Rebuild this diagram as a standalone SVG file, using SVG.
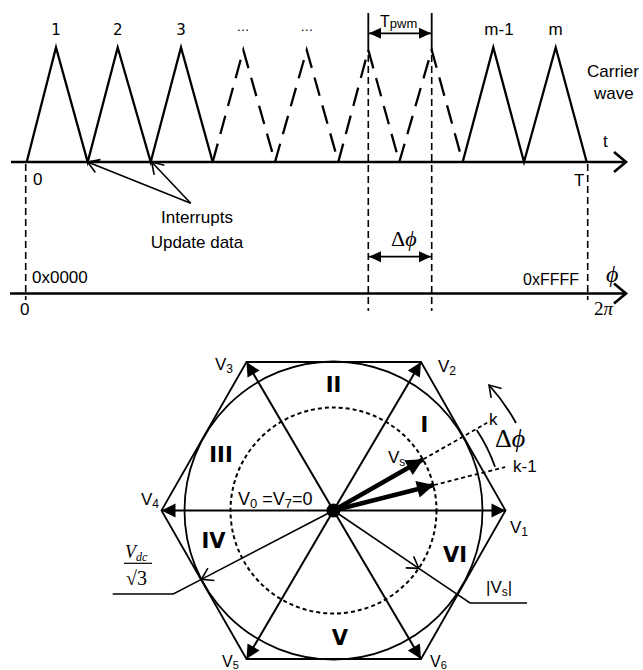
<svg xmlns="http://www.w3.org/2000/svg" width="643" height="670" viewBox="0 0 643 670">
<style>
.sans{font-family:"Liberation Sans",Arial,sans-serif;fill:#000}
.dv{font-family:"DejaVu Sans",Verdana,sans-serif;fill:#000}
.serif{font-family:"Liberation Serif","DejaVu Serif",serif;fill:#000}
.bold{font-family:"DejaVu Sans",Verdana,sans-serif;font-weight:bold;font-size:21px;fill:#000;text-anchor:middle}
.ln{stroke:#000;fill:none}
.tri{stroke:#000;fill:none;stroke-width:2.3;stroke-linejoin:miter}
.dash{stroke:#000;fill:none;stroke-width:2.3;stroke-dasharray:19 10}
.vdash{stroke:#000;fill:none;stroke-width:1.6;stroke-dasharray:7 4}
.axis{stroke:#000;fill:none;stroke-width:2.6}
.spoke{stroke:#000;fill:none;stroke-width:2}
.thick{stroke:#000;fill:none;stroke-width:4.5}
.leader{stroke:#000;fill:none;stroke-width:1.6}
</style>
<defs>
<marker id="axisArrow" markerUnits="userSpaceOnUse" orient="auto" refX="0" refY="0" markerWidth="30" markerHeight="30" viewBox="-15 -15 30 30" overflow="visible">
<path d="M-12,-10 L0,0 L-12,10" fill="none" stroke="#000" stroke-width="2.6"/>
</marker>
<marker id="openArrow" markerUnits="userSpaceOnUse" orient="auto" refX="0" refY="0" markerWidth="30" markerHeight="30" viewBox="-15 -15 30 30" overflow="visible">
<path d="M-11,-7 L0,0 L-11,7" fill="none" stroke="#000" stroke-width="1.6"/>
</marker>
<marker id="fillArrow" markerUnits="userSpaceOnUse" orient="auto" refX="0" refY="0" markerWidth="30" markerHeight="30" viewBox="-15 -15 30 30" overflow="visible">
<path d="M0,0 L-12,-5.5 L-12,5.5 Z" fill="#000"/>
</marker>
<marker id="fillArrowStart" markerUnits="userSpaceOnUse" orient="auto-start-reverse" refX="0" refY="0" markerWidth="30" markerHeight="30" viewBox="-15 -15 30 30" overflow="visible">
<path d="M0,0 L-12,-5.5 L-12,5.5 Z" fill="#000"/>
</marker>
<marker id="spokeArrow" markerUnits="userSpaceOnUse" orient="auto" refX="0" refY="0" markerWidth="30" markerHeight="30" viewBox="-15 -15 30 30" overflow="visible">
<path d="M0,0 L-14,-7 L-14,7 Z" fill="#000"/>
</marker>
<marker id="vsArrow" markerUnits="userSpaceOnUse" orient="auto" refX="0" refY="0" markerWidth="40" markerHeight="40" viewBox="-20 -20 40 40" overflow="visible">
<path d="M0,0 L-17,-8.5 L-17,8.5 Z" fill="#000"/>
</marker>
</defs>

<!-- Carrier wave plot -->
<g id="time-axis">
<path class="axis" d="M11,162 H626" marker-end="url(#axisArrow)"/>
<text class="sans" x="603" y="147" font-size="17">t</text>
<text class="sans" x="574" y="186" font-size="17">T</text>
<text class="sans" x="33" y="185" font-size="17">0</text>
</g>

<g id="carrier-wave">
<path class="tri" d="M26.7,162 L56,47.5 L87.7,162 L117.7,47.5 L150.7,162 L181,47.5 L212.7,162"/>
<path class="dash" d="M212.7,162 L243.3,50 L275,162"/>
<path class="dash" d="M275,162 L306.7,50 L338.3,162"/>
<path class="dash" d="M338.3,162 L368.3,50 L399.3,162"/>
<path class="dash" d="M399.3,162 L431.7,50 L462.7,162"/>
<path class="tri" d="M462.7,162 L493.3,47.5 L524,162 L555.7,47.5 L586.7,162"/>
<text class="dv" x="56" y="35" font-size="15" text-anchor="middle">1</text>
<text class="dv" x="117.7" y="35" font-size="15" text-anchor="middle">2</text>
<text class="dv" x="181" y="35" font-size="15" text-anchor="middle">3</text>
<text class="sans" x="243" y="31" font-size="13" text-anchor="middle">…</text>
<text class="sans" x="306.7" y="31" font-size="13" text-anchor="middle">…</text>
<text class="sans" x="499" y="35" font-size="17" text-anchor="middle">m-1</text>
<text class="sans" x="555.7" y="35" font-size="17" text-anchor="middle">m</text>
<text class="sans" x="587" y="77" font-size="17">Carrier</text>
<text class="sans" x="594" y="99" font-size="17">wave</text>
</g>

<g id="tpwm">
<path class="ln" stroke-width="1.8" d="M368.3,13 V52 M431.7,13 V52"/>
<path class="ln" stroke-width="1.8" d="M369,33.3 H431" marker-start="url(#fillArrowStart)" marker-end="url(#fillArrow)"/>
<text class="sans" x="380" y="27" font-size="16">T<tspan font-size="13" dy="1">pwm</tspan></text>
</g>

<g id="guides">
<path class="vdash" d="M25.7,164 V300"/>
<path class="vdash" d="M587.7,164 V300"/>
<path class="vdash" d="M368.3,55 V311"/>
<path class="vdash" d="M431.7,55 V311"/>
</g>

<g id="interrupts">
<path class="leader" d="M190.7,203.3 L87.7,162" marker-end="url(#openArrow)"/>
<path class="leader" d="M190.7,203.3 L151.7,162" marker-end="url(#openArrow)"/>
<text class="sans" x="197" y="223" font-size="17" text-anchor="middle">Interrupts</text>
<text class="sans" x="197" y="248" font-size="17" text-anchor="middle">Update data</text>
</g>

<g id="phase-axis">
<path class="axis" d="M10,293.5 H626" marker-end="url(#axisArrow)"/>
<path class="ln" stroke-width="1.8" d="M369,256.7 H431" marker-start="url(#fillArrowStart)" marker-end="url(#fillArrow)"/>
<text class="serif" x="391" y="246" font-size="22">Δ<tspan font-style="italic">ϕ</tspan></text>
<text class="sans" x="32" y="283" font-size="17">0x0000</text>
<text class="sans" x="579" y="285" font-size="16" text-anchor="end">0xFFFF</text>
<text class="serif" x="606" y="282" font-size="24" font-style="italic">ϕ</text>
<text class="sans" x="20" y="315" font-size="17">0</text>
<text class="serif" x="594" y="315" font-size="19">2<tspan font-style="italic">π</tspan></text>
</g>

<!-- Space vector hexagon -->
<g id="hexagon">
<polygon class="ln" stroke-width="1.8" points="505.5,510.5 421,362 246.5,362 161.5,510.5 246.5,659 421,659"/>
<circle class="ln" stroke-width="1.8" cx="333.5" cy="510.5" r="149"/>
<circle class="ln" stroke-width="2" stroke-dasharray="4 3" cx="333.5" cy="510.5" r="103"/>
</g>

<g id="connectors">
<path class="spoke" stroke-width="2.6" d="M333.5,510.5 L505.5,510.5" marker-end="url(#spokeArrow)"/>
<path class="spoke" stroke-width="2.6" d="M333.5,510.5 L161.5,510.5" marker-end="url(#spokeArrow)"/>
<path class="spoke" d="M333.5,510.5 L421,362" marker-end="url(#spokeArrow)"/>
<path class="spoke" d="M333.5,510.5 L246.5,362" marker-end="url(#spokeArrow)"/>
<path class="spoke" d="M333.5,510.5 L246.5,659" marker-end="url(#spokeArrow)"/>
<path class="spoke" d="M333.5,510.5 L421,659" marker-end="url(#spokeArrow)"/>
<path class="thick" d="M333.5,510.5 L423.3,459.3" marker-end="url(#vsArrow)"/>
<path class="thick" d="M333.5,510.5 L434,485" marker-end="url(#vsArrow)"/>
<path class="ln" stroke-width="1.8" stroke-dasharray="4 3" d="M423.3,459.3 L487.2,422.8"/>
<path class="ln" stroke-width="1.8" stroke-dasharray="4 3" d="M434,485 L505.1,467.1"/>
<path class="ln" stroke-width="1.8" d="M476.7,430 A165,165 0 0,1 495,466.7"/>
<path class="ln" stroke-width="1.8" d="M516,423 A201,201 0 0,0 489,385" marker-end="url(#openArrow)"/>
<path class="leader" d="M333.5,510.5 L418.8,568.3" marker-end="url(#openArrow)"/>
<path class="leader" d="M418.8,568.3 L470,603 H527"/>
<path class="leader" d="M333.5,510.5 L201.4,579.4" marker-end="url(#openArrow)"/>
<path class="leader" d="M201.4,579.4 L173.3,594 H112.7"/>
<circle cx="333.5" cy="510.5" r="7" fill="#000"/>
</g>

<g id="sector-labels">
<text class="bold" x="424.5" y="432">I</text>
<text class="bold" x="333.5" y="392">II</text>
<text class="bold" x="221" y="462">III</text>
<text class="bold" x="213.5" y="548">IV</text>
<text class="bold" x="340" y="645">V</text>
<text class="bold" x="455" y="562">VI</text>
</g>

<g id="vector-labels">
<text class="sans" x="510" y="533" font-size="17">V<tspan font-size="12" dy="3">1</tspan></text>
<text class="sans" x="438" y="372" font-size="17">V<tspan font-size="12" dy="3">2</tspan></text>
<text class="sans" x="215" y="370" font-size="17">V<tspan font-size="12" dy="3">3</tspan></text>
<text class="sans" x="141" y="505" font-size="17">V<tspan font-size="12" dy="3">4</tspan></text>
<text class="sans" x="222" y="667" font-size="16">V<tspan font-size="11" dy="2">5</tspan></text>
<text class="sans" x="430" y="667" font-size="16">V<tspan font-size="11" dy="2">6</tspan></text>
<text class="sans" x="388" y="463" font-size="17">V<tspan font-size="12" dy="3">s</tspan></text>
<text class="sans" x="238" y="505" font-size="18">V<tspan font-size="13" dy="3">0</tspan><tspan dy="-3"> =V</tspan><tspan font-size="13" dy="3">7</tspan><tspan dy="-3">=0</tspan></text>
<text class="sans" x="489" y="425" font-size="17">k</text>
<text class="sans" x="513" y="472" font-size="17">k-1</text>
<text class="serif" x="495" y="447" font-size="26">Δ<tspan font-style="italic">ϕ</tspan></text>
<text class="sans" x="486" y="593" font-size="17">|V<tspan font-size="12" dy="3">s</tspan><tspan dy="-3">|</tspan></text>
<text class="serif" x="125" y="558" font-size="18" font-style="italic">V<tspan font-size="12" dy="3">dc</tspan></text>
<path class="ln" stroke-width="1.2" d="M124,563.3 H152"/>
<text class="serif" x="126" y="585" font-size="20">√3</text>
</g>
</svg>
